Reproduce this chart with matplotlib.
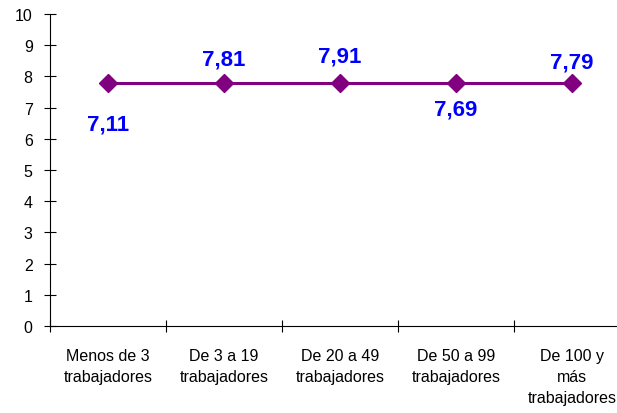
import matplotlib
matplotlib.use("Agg")
import matplotlib.pyplot as plt

categories = ["Menos de 3\ntrabajadores", "De 3 a 19\ntrabajadores", "De 20 a 49\ntrabajadores",
              "De 50 a 99\ntrabajadores", "De 100 y\nmás\ntrabajadores"]
# plotted point heights (the line is flat)
point_values = [7.8, 7.8, 7.8, 7.8, 7.8]
# data label texts as printed
label_texts = ["7,11", "7,81", "7,91", "7,69", "7,79"]
label_offsets = [30, -17, -19.5, 19, -15]  # points, vertical
yticks = list(range(0, 11))

plt.rcParams['font.family'] = ['Liberation Sans', 'DejaVu Sans']

fig = plt.figure(figsize=(6.17, 4.14), dpi=100)
W, H = 617, 414
ax = fig.add_axes([50 / W, 1 - 327 / H, 580 / W, 312 / H])

x = list(range(len(categories)))
ax.plot(x, point_values, color='#800080', lw=2.2, marker='D', markersize=9,
        markerfacecolor='#800080', markeredgecolor='#800080', clip_on=False)

for xi, yi, t, off in zip(x, point_values, label_texts, label_offsets):
    ax.annotate(t, (xi, yi), xytext=(0, -off), textcoords='offset points',
                ha='center', va='center', color='#0000FF', fontsize=16, fontweight='bold')

ax.set_xlim(-0.5, len(categories) - 0.5)
ax.set_ylim(0, 10)
ax.set_yticks(yticks)
ax.set_yticklabels([str(v) for v in yticks])

ax.set_xticks([i - 0.5 for i in range(len(categories) + 1)])
ax.set_xticklabels([])
ax.set_xticks(x, minor=True)
ax.set_xticklabels(categories, minor=True, fontsize=11.5, linespacing=1.5, va='top')
ax.tick_params(axis='x', which='minor', length=0, pad=16)
ax.tick_params(axis='x', which='major', direction='inout', length=9, width=0.8)
ax.tick_params(axis='y', direction='inout', length=9, width=0.8, labelsize=11.5, pad=8)

for s in ['top', 'right']:
    ax.spines[s].set_visible(False)
for s in ['left', 'bottom']:
    ax.spines[s].set_linewidth(0.8)
    ax.spines[s].set_color('black')

fig.savefig("out.png", dpi=100)
